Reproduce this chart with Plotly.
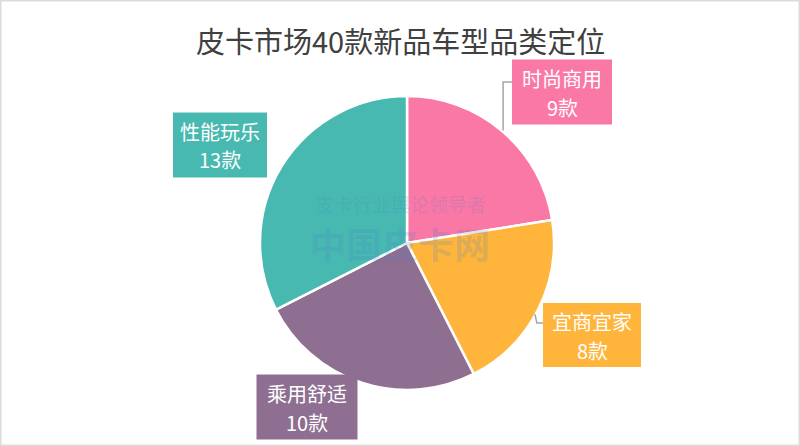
import math
import plotly.graph_objects as go

# ---- data ----
categories = ["时尚商用", "宜商宜家", "乘用舒适", "性能玩乐"]
counts = [9, 8, 10, 13]
unit = "款"
title_text = "皮卡市场40款新品车型品类定位"

# ---- styles ----
colors = ["#FA78A6", "#FFB53C", "#8E6F91", "#48B9B1"]
W, H = 800, 446
CX, CY, R = 407, 243, 147  # pie centre / radius in pixels
FONT = "Noto Sans CJK SC, Microsoft YaHei, sans-serif"

# label box placement (pixel centre, width, height)
box_pos = {
    "时尚商用": (562, 92, 100, 65),
    "宜商宜家": (592, 335, 98, 64),
    "乘用舒适": (307, 407, 101, 65),
    "性能玩乐": (220, 145, 94, 65),
}

def px(x):
    return x / W

def py(y):
    return 1 - y / H

fig = go.Figure(go.Pie(
    labels=categories,
    values=counts,
    sort=False,
    direction="clockwise",
    rotation=0,
    marker=dict(colors=colors, line=dict(color="white", width=2.5)),
    textinfo="none",
    hoverinfo="label+value",
    showlegend=False,
    domain=dict(x=[px(CX - R), px(CX + R)], y=[py(CY + R), py(CY - R)]),
))

annotations = []
shapes = []

# label boxes: coloured rect + two text lines
for cat, val, col in zip(categories, counts, colors):
    x, y, w, h = box_pos[cat]
    shapes.append(dict(type="rect", xref="paper", yref="paper",
                       x0=px(x - w / 2), x1=px(x + w / 2), y0=py(y + h / 2), y1=py(y - h / 2),
                       fillcolor=col, line=dict(width=0), layer="above"))
    annotations.append(dict(
        x=px(x), y=py(y - 14), xref="paper", yref="paper",
        xanchor="center", yanchor="middle", text=cat, showarrow=False,
        font=dict(family=FONT, size=20, color="white"),
    ))
    annotations.append(dict(
        x=px(x), y=py(y + 15), xref="paper", yref="paper",
        xanchor="center", yanchor="middle", text=f"{val}{unit}", showarrow=False,
        font=dict(family=FONT, size=20, color="white"),
    ))

# leader lines computed from slice mid-angles
total = sum(counts)
cum = 0
mid_angle = {}
for cat, val in zip(categories, counts):
    mid_angle[cat] = (cum + val / 2) / total * 360
    cum += val

def edge(cat, rr):
    a = math.radians(mid_angle[cat])
    return CX + rr * math.sin(a), CY - rr * math.cos(a)

# pink: up then right into box
ex, ey = edge("时尚商用", R + 1)
bx, by, bw, bh = box_pos["时尚商用"]
shapes.append(dict(type="path", xref="paper", yref="paper",
                   path=f"M {px(ex)} {py(ey)} L {px(ex)} {py(by - 10)} L {px(bx - bw / 2)} {py(by - 10)}",
                   line=dict(color="#A6A6A6", width=1.5)))
# orange: short elbow into box
ex, ey = edge("宜商宜家", R + 1)
bx, by, bw, bh = box_pos["宜商宜家"]
shapes.append(dict(type="path", xref="paper", yref="paper",
                   path=f"M {px(ex - 4)} {py(ey + 4)} L {px(ex - 2)} {py(by - 12)} L {px(bx - bw / 2)} {py(by - 12)}",
                   line=dict(color="#A6A6A6", width=1.5)))

# watermark
annotations.append(dict(x=px(400), y=py(203), xref="paper", yref="paper", showarrow=False,
                        text="皮卡行业舆论领导者",
                        font=dict(family=FONT, size=19, color="rgba(70,130,200,0.2)")))
annotations.append(dict(x=px(400), y=py(243), xref="paper", yref="paper", showarrow=False,
                        text="<b>中国皮卡网</b>",
                        font=dict(family=FONT, size=36, color="rgba(70,130,200,0.2)")))

# title
annotations.append(dict(x=px(400), y=py(40), xref="paper", yref="paper", showarrow=False,
                        xanchor="center", yanchor="middle", text=title_text,
                        font=dict(family=FONT, size=29, color="#404040")))

# outer frame
shapes.append(dict(type="rect", xref="paper", yref="paper", x0=0, y0=0, x1=1, y1=1,
                   line=dict(color="#DCDCDC", width=3)))

fig.update_layout(
    width=W, height=H,
    margin=dict(l=0, r=0, t=0, b=0),
    paper_bgcolor="white", plot_bgcolor="white",
    annotations=annotations, shapes=shapes,
)

fig.write_html("out.html", config={"displayModeBar": False},
               post_script="document.body.style.margin='0';document.body.style.overflow='hidden';")
